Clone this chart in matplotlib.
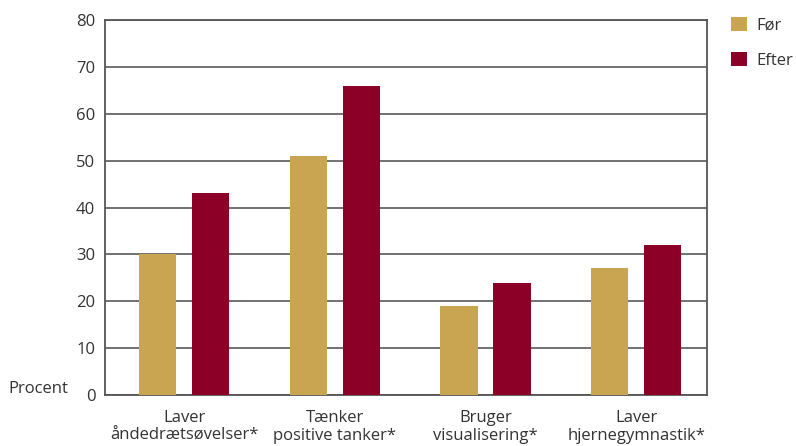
import numpy as np
import matplotlib.pyplot as plt

plt.rcParams['font.family'] = ['Open Sans', 'DejaVu Sans']

# data
categories = ['Laver\nåndedrætsøvelser*', 'Tænker\npositive tanker*',
              'Bruger\nvisualisering*', 'Laver\nhjernegymnastik*']
foer = [30, 51, 19, 27]
efter = [43, 66, 24, 32]
y_ticks = [0, 10, 20, 30, 40, 50, 60, 70, 80]

gold = '#C9A552'
red = '#8C0028'
grid_col = '#666666'
text_col = '#333333'

fig = plt.figure(figsize=(7.96, 4.46), dpi=100)
ax = fig.add_axes([0.1319, 0.1143, 0.7563, 0.8408])

x = np.arange(len(categories))
w = 0.246
off = 0.176
ax.bar(x - off, foer, width=w, color=gold, label='Før', zorder=3)
ax.bar(x + off, efter, width=w, color=red, label='Efter', zorder=3)

ax.set_xlim(-0.525, 3.47)
ax.set_ylim(0, 80)
ax.set_yticks(y_ticks)
ax.set_xticks(x)
ax.set_xticklabels(categories, fontsize=12, color=text_col, linespacing=1.2)
ax.tick_params(axis='both', length=0, labelsize=12, labelcolor=text_col)
ax.tick_params(axis='y', pad=7)
ax.tick_params(axis='x', pad=10.5)

ax.yaxis.grid(True, color=grid_col, linewidth=1.3, zorder=1)
for s in ax.spines.values():
    s.set_color('#555555')
    s.set_linewidth(1.3)

fig.text(8 / 796, 1 - 389 / 446, 'Procent', fontsize=12, color=text_col,
         va='center', ha='left')

fig.legend(loc='upper left', bbox_to_anchor=(0.8995, 0.996), frameon=False,
           fontsize=12, handlelength=0.95, handleheight=0.95,
           handletextpad=0.6, labelspacing=1.1, labelcolor=text_col)

fig.savefig('out.png', dpi=100)
